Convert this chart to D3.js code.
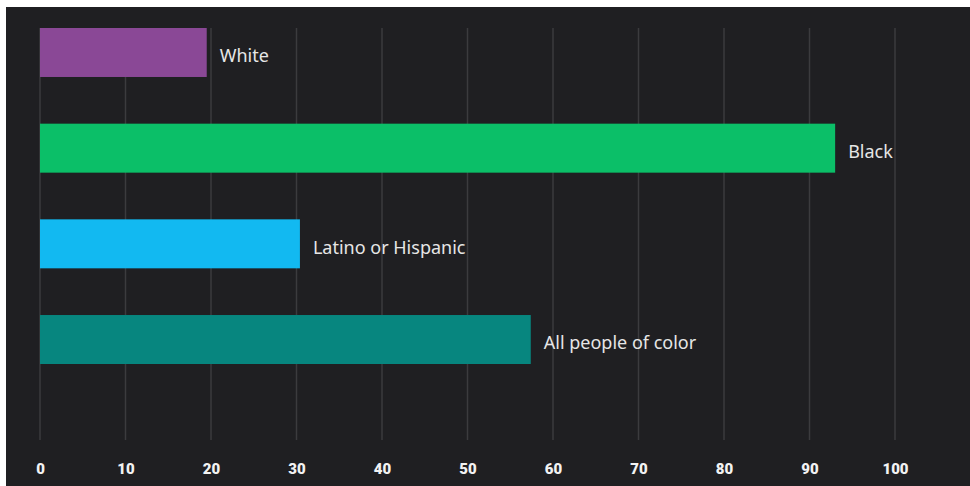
<!DOCTYPE html>
<html><head><meta charset="utf-8">
<script src="https://cdn.jsdelivr.net/npm/d3@7"></script>
<style>html,body{margin:0;padding:0;background:#fff;}svg{display:block;}</style>
</head><body>
<svg id="c" width="970" height="486"></svg>
<script>
const categories = ["White", "Black", "Latino or Hispanic", "All people of color"];
const values = [19.5, 93.0, 30.4, 57.4];
const colors = ["#8a4896", "#0bbf68", "#12b9f1", "#07867f"];
const tickValues = [0, 10, 20, 30, 40, 50, 60, 70, 80, 90, 100];

const svg = d3.select("#c");
svg.append("rect").attr("x", 6).attr("y", 7).attr("width", 964).attr("height", 479).attr("fill", "#1f1f22");

const x = d3.scaleLinear().domain([0, 100]).range([40, 895]);
const y = d3.scaleBand().domain(categories).range([28, 364]).paddingInner(0.488).paddingOuter(0);

// gridlines
svg.append("g").selectAll("line").data(tickValues).join("line")
  .attr("x1", d => x(d)).attr("x2", d => x(d))
  .attr("y1", 28).attr("y2", 440)
  .attr("stroke", "#3b3b3e").attr("stroke-width", 1.5);

// axis
const axis = d3.axisBottom(x).tickValues(tickValues).tickSize(0).tickPadding(0);
const ag = svg.append("g").attr("transform", "translate(0,474)").call(axis);
ag.select(".domain").remove();
ag.selectAll("text").attr("fill", "#f2f2f2").attr("font-family", "Roboto, 'DejaVu Sans', sans-serif")
  .attr("font-weight", 900).attr("font-size", 15).attr("dy", 0);

// bars
svg.append("g").selectAll("rect").data(categories).join("rect")
  .attr("x", x(0)).attr("y", d => y(d))
  .attr("width", (d, i) => x(values[i]) - x(0))
  .attr("height", y.bandwidth())
  .attr("fill", (d, i) => colors[i]);

// labels
svg.append("g").selectAll("text").data(categories).join("text")
  .attr("x", (d, i) => x(values[i]) + 13)
  .attr("y", d => y(d) + y.bandwidth() / 2 + 3.5)
  .attr("dy", "0.35em")
  .attr("fill", "#e6e6e6")
  .attr("font-family", "'Noto Sans', Roboto, sans-serif")
  .attr("font-size", 18)
  .text(d => d);
</script>
</body></html>
